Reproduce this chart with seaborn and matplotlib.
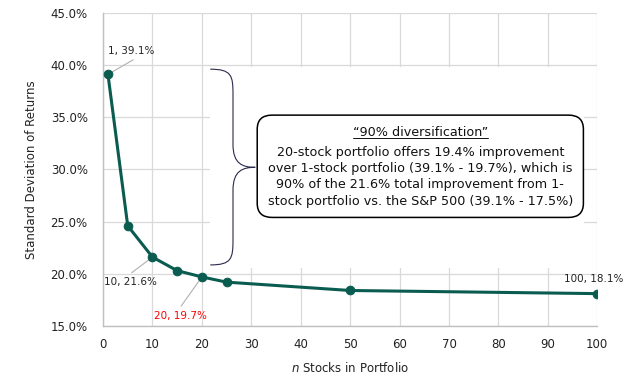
import matplotlib
matplotlib.use('Agg')
import matplotlib.pyplot as plt
import matplotlib.patches as mpatches
from matplotlib.path import Path
from matplotlib.ticker import FuncFormatter
import seaborn as sns
import pandas as pd

# 数据
n_stocks = [1, 5, 10, 15, 20, 25, 50, 100]
std_dev = [39.1, 24.6, 21.6, 20.3, 19.7, 19.2, 18.4, 18.1]
labeled = {1: '1, 39.1%', 10: '10, 21.6%', 20: '20, 19.7%', 100: '100, 18.1%'}

box_title = '\u201c90% diversification\u201d'
box_body = ('20-stock portfolio offers 19.4% improvement\n'
            'over 1-stock portfolio (39.1% - 19.7%), which is\n'
            '90% of the 21.6% total improvement from 1-\n'
            'stock portfolio vs. the S&P 500 (39.1% - 17.5%)')

df = pd.DataFrame({'n': n_stocks, 'std': std_dev})

sns.set_style('white')
plt.rcParams['font.family'] = ['DejaVu Sans']

line_color = '#0b5c50'
grid_color = '#d9d9d9'

fig = plt.figure(figsize=(6.32, 3.89), dpi=100)
ax = fig.add_axes([0.163, 0.162, 0.782, 0.805])

sns.lineplot(data=df, x='n', y='std', ax=ax, color=line_color, lw=2.2,
             marker='o', markersize=6.2, markeredgecolor=line_color, zorder=5)

ax.set_xlim(0, 100)
ax.set_ylim(15, 45)
ax.set_xticks(range(0, 101, 10))
ax.set_yticks(range(15, 46, 5))
ax.yaxis.set_major_formatter(FuncFormatter(lambda v, p: f'{v:.1f}%'))
ax.tick_params(length=0, labelsize=8.5, colors='#222222')
ax.tick_params(axis='x', pad=9)
ax.tick_params(axis='y', pad=11)
ax.grid(True, color=grid_color, lw=0.9)
ax.set_axisbelow(True)
for s in ['top', 'right']:
    ax.spines[s].set_visible(False)
for s in ['left', 'bottom']:
    ax.spines[s].set_color('#bfbfbf')
    ax.spines[s].set_linewidth(1.0)

ax.set_xlabel('$\\it{n}$ Stocks in Portfolio', fontsize=8.5, color='#222222', labelpad=7)
ax.set_ylabel('Standard Deviation of Returns', fontsize=8.5, color='#222222', labelpad=9)

# 遮住网格线的白色区域
ax.add_patch(mpatches.Rectangle((21.7, 20.55), 75.7, 19.25, facecolor='white',
                                edgecolor='none', zorder=1))

# 数据标签
lab_pos = {1: (5.6, 41.3), 10: (5.5, 19.2), 20: (15.6, 16.0), 100: (99.2, 19.5)}
lab_line = {1: (6.1, 40.5), 10: (5.8, 20.1), 20: (15.8, 16.9), 100: None}
for n, txt in labeled.items():
    y = std_dev[n_stocks.index(n)]
    tx, ty = lab_pos[n]
    col = 'red' if n == 20 else '#222222'
    ax.text(tx, ty, txt, fontsize=7.5, color=col, ha='center', va='center', zorder=6)
    if lab_line[n] is not None:
        lx, ly = lab_line[n]
        ax.plot([lx, n], [ly, y], color='#b0b0b0', lw=0.8, zorder=4)

# 大括号
x0, x1, xm = 21.7, 26.3, 30.8
yt, yb, ymid = 39.6, 20.85, 30.2
verts = [(x0, yt), (x1 - 0.3, yt), (x1, yt - 0.6), (x1, yt - 2.4),
         (x1, ymid + 2.2),
         (x1, ymid + 0.3), (xm - 2.5, ymid), (xm, ymid),
         (xm - 2.5, ymid), (x1, ymid - 0.3), (x1, ymid - 2.2),
         (x1, yb + 2.4),
         (x1, yb + 0.6), (x1 - 0.3, yb), (x0, yb)]
codes = [Path.MOVETO, Path.CURVE4, Path.CURVE4, Path.CURVE4,
         Path.LINETO,
         Path.CURVE4, Path.CURVE4, Path.CURVE4,
         Path.CURVE4, Path.CURVE4, Path.CURVE4,
         Path.LINETO,
         Path.CURVE4, Path.CURVE4, Path.CURVE4]
ax.add_patch(mpatches.PathPatch(Path(verts, codes), facecolor='none',
                                edgecolor='#2a2a4a', lw=0.8, zorder=3))

# 注释框
box = mpatches.FancyBboxPatch((31.2, 25.4), 66.0, 9.8,
                              boxstyle='round,pad=0,rounding_size=3',
                              mutation_aspect=0.45,
                              facecolor='white', edgecolor='black', lw=1.1, zorder=3)
ax.add_patch(box)
t = ax.text(64.2, 33.5, box_title, fontsize=9.2, ha='center', va='center',
            color='#111111', zorder=6)
ax.text(64.2, 29.3, box_body, fontsize=9.2, ha='center', va='center',
        color='#111111', linespacing=1.33, zorder=6)

fig.canvas.draw()
bb = t.get_window_extent().transformed(ax.transData.inverted())
ax.plot([bb.x0, bb.x1], [bb.y0 + 0.1, bb.y0 + 0.1], color='#111111', lw=0.7, zorder=6)

fig.savefig('out.png', dpi=100)
